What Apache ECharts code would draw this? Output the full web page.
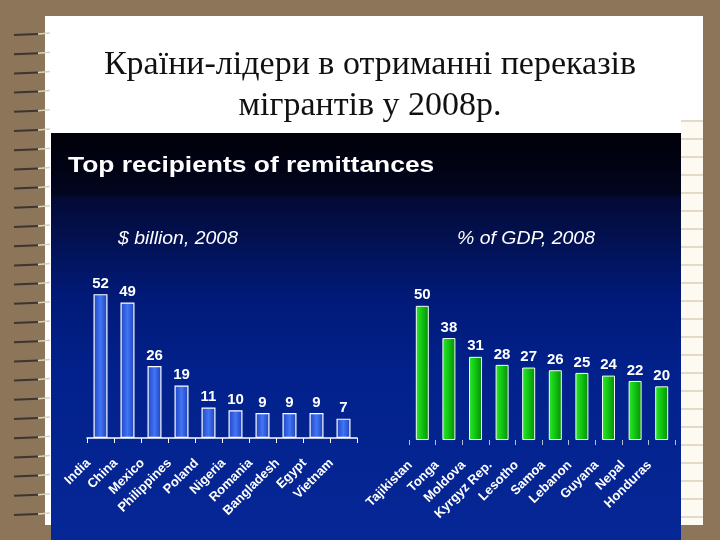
<!DOCTYPE html>
<html><head><meta charset="utf-8">
<script src="https://cdn.jsdelivr.net/npm/echarts@6/dist/echarts.min.js"></script>
<style>html,body{margin:0;padding:0;background:#8c7558}#c{width:720px;height:540px}</style>
</head><body><div id="c"></div>
<script>
// ---- data ----
const leftCategories = ['India','China','Mexico','Philippines','Poland','Nigeria','Romania','Bangladesh','Egypt','Vietnam'];
const leftValues = [52,49,26,19,11,10,9,9,9,7];
const rightCategories = ['Tajikistan','Tonga','Moldova','Kyrgyz Rep.','Lesotho','Samoa','Lebanon','Guyana','Nepal','Honduras'];
const rightValues = [50,38,31,28,27,26,25,24,22,20];
const pageTitleLines = ['Країни-лідери в отриманні переказів','мігрантів у 2008р.'];
const panelTitle = 'Top recipients of remittances';
const leftSubtitle = '$ billion, 2008';
const rightSubtitle = '% of GDP, 2008';

// ---- decoration ----
const deco = [];
deco.push({type:'rect', z:-20, shape:{x:0,y:0,width:720,height:540}, style:{fill:'#8c7558'}});
deco.push({type:'rect', z:-19, shape:{x:45,y:16,width:658,height:509}, style:{fill:'#ffffff'}});
deco.push({type:'rect', z:-18, shape:{x:681,y:120,width:22,height:405}, style:{fill:'#fdfaf2'}});
for (let y = 121; y < 525; y += 18) {
  deco.push({type:'line', z:-17, shape:{x1:681,y1:y,x2:703,y2:y}, style:{stroke:'#c9b99e', lineWidth:1}});
}
for (let y = 33; y < 520; y += 19.2) {
  deco.push({type:'line', z:-16, shape:{x1:14,y1:y+2,x2:38,y2:y+1}, style:{stroke:'#3a3630', lineWidth:2}});
  deco.push({type:'line', z:-16, shape:{x1:38,y1:y+1,x2:50,y2:y}, style:{stroke:'#d8d2c4', lineWidth:1.5}});
}
deco.push({type:'rect', z:-15, shape:{x:51,y:133,width:630,height:407},
  style:{fill:new echarts.graphic.LinearGradient(0,0,0,1,[
    {offset:0,color:'#000008'},{offset:0.15,color:'#02051e'},{offset:0.16,color:'#030a35'},
    {offset:0.4,color:'#011a78'},{offset:0.6,color:'#02218c'},{offset:1,color:'#062796'}])}});

const serif = '34px "Liberation Serif", "Times New Roman", serif';
const sans = '"Liberation Sans", Arial, sans-serif';
const texts = [
  {type:'text', z:10, x:370, y:65.5, style:{text:pageTitleLines[0], font:serif, fill:'#111', textAlign:'center', textVerticalAlign:'middle'}},
  {type:'text', z:10, x:370, y:106.5, style:{text:pageTitleLines[1], font:serif, fill:'#111', textAlign:'center', textVerticalAlign:'middle'}},
  {type:'text', z:10, x:68, y:165.5, scaleX:1.2, style:{text:panelTitle, font:'bold 22px ' + sans, fill:'#ffffff', textAlign:'left', textVerticalAlign:'middle'}},
  {type:'text', z:10, x:118, y:239, scaleX:1.08, style:{text:leftSubtitle, font:'italic 18px ' + sans, fill:'#ffffff', textAlign:'left', textVerticalAlign:'middle'}},
  {type:'text', z:10, x:457, y:239, scaleX:1.08, style:{text:rightSubtitle, font:'italic 18px ' + sans, fill:'#ffffff', textAlign:'left', textVerticalAlign:'middle'}}
];

const blueGrad = new echarts.graphic.LinearGradient(0,0,1,0,[
  {offset:0,color:'#1f44c0'},{offset:0.5,color:'#4175f5'},{offset:1,color:'#1c3fb8'}]);
const greenGrad = new echarts.graphic.LinearGradient(0,0,1,0,[
  {offset:0,color:'#2ee82e'},{offset:0.45,color:'#12c812'},{offset:1,color:'#078a07'}]);

const axisLabel = {rotate:45, color:'#ffffff', fontWeight:'bold', fontSize:13, fontFamily:sans, margin:11, padding:[0,17,0,0], interval:0};
const valLabel = {show:true, position:'top', distance:3, color:'#ffffff', fontWeight:'bold', fontSize:15, fontFamily:sans};

const chart = echarts.init(document.getElementById('c'));
chart.setOption({
  animation:false,
  backgroundColor:'transparent',
  graphic:{elements: deco.concat(texts)},
  grid:[
    {left:87, width:270, bottom:102, height:166},
    {left:409, width:266, bottom:100, height:161}
  ],
  xAxis:[
    {type:'category', gridIndex:0, data:leftCategories,
     axisLine:{show:true, lineStyle:{color:'#ffffff', width:1.5}},
     axisTick:{show:true, length:5, lineStyle:{color:'#ffffff'}},
     axisLabel:axisLabel},
    {type:'category', gridIndex:1, data:rightCategories,
     axisLine:{show:false},
     axisTick:{show:true, length:5, lineStyle:{color:'#b8bedc'}},
     axisLabel:axisLabel}
  ],
  yAxis:[
    {type:'value', gridIndex:0, min:0, max:60, show:false, splitLine:{show:false}},
    {type:'value', gridIndex:1, min:0, max:60, show:false, splitLine:{show:false}}
  ],
  series:[
    {type:'bar', xAxisIndex:0, yAxisIndex:0, data:leftValues, barWidth:14,
     itemStyle:{color:blueGrad, borderColor:'#ffffff', borderWidth:1.2}, label:valLabel},
    {type:'bar', xAxisIndex:1, yAxisIndex:1, data:rightValues, barWidth:13,
     itemStyle:{color:greenGrad, borderColor:'#f4fff4', borderWidth:1}, label:valLabel}
  ]
});
</script></body></html>
